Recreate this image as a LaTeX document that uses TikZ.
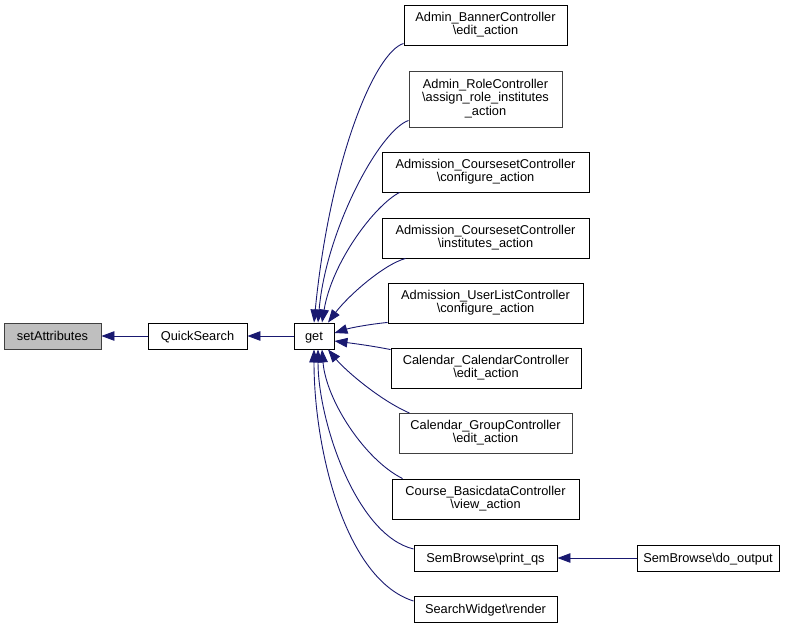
\documentclass[tikz,border=0pt]{standalone}
\usepackage{fontspec}
\setmainfont{Liberation Sans}
\usetikzlibrary{arrows.meta}
\definecolor{edgeblue}{HTML}{191970}
\definecolor{rootgray}{HTML}{BFBFBF}
\definecolor{bordgray}{HTML}{404040}
\tikzset{
  box/.style={draw=black, line width=0.9pt, fill=white, rectangle, inner sep=0pt, align=center,
     font=\fontsize{12.8}{13.3}\selectfont,
     execute at begin node={\rule{0pt}{13pt}},
     execute at end node={\rule[-3.8pt]{0pt}{3.8pt}}},
  greybox/.style={box, draw=bordgray},
  rootbox/.style={box, fill=rootgray, draw=bordgray},
  edge/.style={draw=edgeblue, line width=0.9pt, -{Triangle[length=13pt,width=9.5pt,fill=edgeblue]}},
}
\newcommand{\bs}{\textbackslash}
\begin{document}
\begin{tikzpicture}[x=1pt,y=-1pt]
\useasboundingbox (0,0) rectangle (797,627);
\node[rootbox, minimum width=97pt, minimum height=26pt] (sa) at (52.5,336) {setAttributes};
\node[box, minimum width=99pt, minimum height=26pt] (qs) at (197.5,336) {QuickSearch};
\node[box, minimum width=40pt, minimum height=26pt] (get) at (314,336) {get};
\node[box, minimum width=163pt, minimum height=40pt] (banner) at (485.5,25) {Admin\_BannerController\\\bs edit\_action};
\node[greybox, minimum width=153pt, minimum height=56pt] (role) at (485.5,99) {Admin\_RoleController\\\bs assign\_role\_institutes\\\_action};
\node[box, minimum width=207pt, minimum height=40pt] (cconf) at (485.5,172) {Admission\_CoursesetController\\\bs configure\_action};
\node[box, minimum width=207pt, minimum height=40pt] (cinst) at (485.5,238) {Admission\_CoursesetController\\\bs institutes\_action};
\node[box, minimum width=195pt, minimum height=40pt] (ulist) at (485.5,303) {Admission\_UserListController\\\bs configure\_action};
\node[box, minimum width=190pt, minimum height=40pt] (calcal) at (486,368) {Calendar\_CalendarController\\\bs edit\_action};
\node[greybox, minimum width=173pt, minimum height=40pt] (calgrp) at (485.5,433.5) {Calendar\_GroupController\\\bs edit\_action};
\node[box, minimum width=187pt, minimum height=40pt] (course) at (485.5,499) {Course\_BasicdataController\\\bs view\_action};
\node[box, minimum width=143pt, minimum height=26pt] (printqs) at (485.5,558) {SemBrowse\bs print\_qs};
\node[box, minimum width=143pt, minimum height=26pt] (swidget) at (485.5,609) {SearchWidget\bs render};
\node[box, minimum width=142pt, minimum height=26pt] (doout) at (708,558) {SemBrowse\bs do\_output};

\draw[edge] (qs.west) -- (sa.east);
\draw[edge] (get.west) -- (qs.east);
\draw[edge] (doout.west) -- (printqs.east);

\draw[edge] (banner.south west) ++(0,-2) .. controls +(-29,9) and (330,160) .. (get.north);
\draw[edge] (role.south west) ++(0,-7) .. controls +(-29,10) and (326,230) .. ([xshift=4pt]get.north);
\draw[edge] (cconf.south west) ++(18,0) .. controls +(-25,13) and (332,262) .. ([xshift=8pt]get.north);
\draw[edge] (cinst.south west) ++(24,0) .. controls +(-22,6) and (348,296) .. ([xshift=14pt]get.north);
\draw[edge] (ulist.south west) ++(0,-1) .. controls +(-20,2) and (350,328) .. ([yshift=3pt]get.east);
\draw[edge] (calcal.north west) ++(0,2) .. controls +(-20,-4) and (350,343) .. ([yshift=-5pt]get.east);
\draw[edge] (calgrp.north west) ++(11,0) .. controls +(-30,-13) and (345,370) .. ([xshift=14pt]get.south);
\draw[edge] (course.north west) ++(11,0) .. controls +(-38,-19) and (326,400) .. ([xshift=8pt]get.south);
\draw[edge] (printqs.west) ++(0,-9) .. controls +(-58,-14) and (318,420) .. ([xshift=4pt]get.south);
\draw[edge] (swidget.west) ++(0,-8) .. controls +(-68,-21) and (314,450) .. (get.south);
\end{tikzpicture}
\end{document}
